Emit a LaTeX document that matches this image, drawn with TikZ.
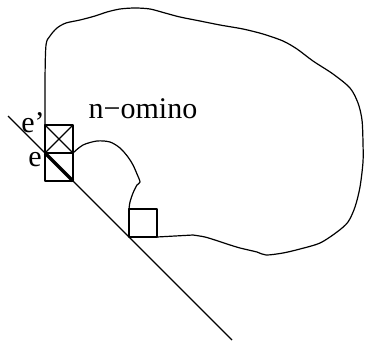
\documentclass[tikz,border=0pt]{standalone}
\usepackage{fontspec}
\setmainfont{Liberation Serif}
\begin{document}
\begin{tikzpicture}[x=1pt,y=-1pt,
  thinline/.style={line width=1.2pt,line join=round},
  lbl/.style={inner sep=0pt,font=\fontsize{30}{30}\selectfont,anchor=base}]
\useasboundingbox (0,0) rectangle (365,341);
% outline of the n-omino
\draw[thinline] plot[smooth,tension=0.5] coordinates{
 (45,125) (45,80) (46,45) (50,36) (57,28) (66,23) (80,20) (95,16) (107,12)
 (120,9) (135,8) (150,9) (165,13) (180,17) (200,21) (220,25) (243,29)
 (263,34) (283,41) (297,49) (313,61) (333,74) (350,88) (358,103) (362,120)
 (363,143) (363,162) (360,187) (355,207) (348,222) (337,232) (320,243)
 (300,249) (283,253) (266,255) (257,252) (240,248) (227,244) (218,241)
 (205,237) (193,235)} -- (157,237);
\draw[thinline] plot[smooth,tension=0.5] coordinates{
 (73,153) (83,145) (97,141) (110,142) (120,148) (128,157) (133,165)
 (137,174) (140,182) (137,185) (133,193) (130,202) (129,209)};
% cells
\coordinate (a1) at (45,125); \coordinate (a2) at (73,153);
\coordinate (b1) at (45,153); \coordinate (b2) at (73,181);
\coordinate (c1) at (129,209); \coordinate (c2) at (157,237);
\draw[thinline] (a1) rectangle (a2);
\draw[thinline] (45,125) -- (73,153) (73,125) -- (45,153);
\draw[thinline] (b1) rectangle (b2);
\draw[thinline] (c1) rectangle (c2);
% support line
\coordinate (l1) at (8,116); \coordinate (l2) at (232,340);
\draw[thinline] (l1) -- (l2);
\draw[line width=3.5pt] (b1) -- (b2);
% labels
\node[lbl] (t) at (143,118) {n−omino};
\node[lbl] (ep) at (33,132) {e’};
\node[lbl] (e) at (35,166) {e};
\end{tikzpicture}
\end{document}
